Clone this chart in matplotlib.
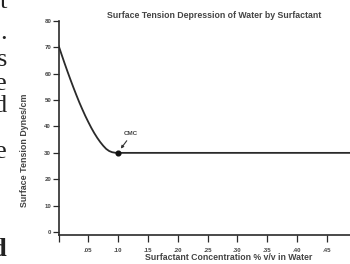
import matplotlib
matplotlib.use("Agg")
import matplotlib.pyplot as plt

# Data
conc = [0.0, 0.005, 0.010, 0.015, 0.020, 0.025, 0.030, 0.035, 0.040, 0.045, 0.050,
        0.055, 0.060, 0.065, 0.070, 0.075, 0.080, 0.085, 0.090, 0.095, 0.10, 0.30, 0.50]
tension = [70.8, 67.4, 64.1, 60.9, 57.8, 54.8, 51.9, 49.1, 46.5, 44.0, 41.7,
           39.5, 37.5, 35.7, 34.1, 32.7, 31.5, 30.7, 30.25, 30.05, 30.0, 30.0, 30.0]
cmc_x, cmc_y = 0.10, 30.0
xticks = [0.0, 0.05, 0.10, 0.15, 0.20, 0.25, 0.30, 0.35, 0.40, 0.45]
xticklabels = ["", ".05", ".10", ".15", ".20", ".25", ".30", ".35", ".40", ".45"]
yticks = [0, 10, 20, 30, 40, 50, 60, 70, 80]
title = "Surface Tension Depression of Water by Surfactant"
xlabel = "Surfactant Concentration % v/v in Water"
ylabel = "Surface Tension Dynes/cm"

W, H = 350, 264
fig = plt.figure(figsize=(3.5, 2.64), dpi=100)
fig.patch.set_facecolor("white")
plt.rcParams["font.family"] = ["Liberation Sans", "DejaVu Sans"]

ax = fig.add_axes([58.5 / W, 1 - 234.5 / H, (W - 58.5) / W, (234.5 - 21) / H])
ax.set_xlim(0, 0.489)
ax.set_ylim(-0.95, 80)
ax.set_facecolor("white")

dark = "#2a2a2a"
txt = "#444444"
ax.plot(conc, tension, color=dark, lw=1.3, solid_capstyle="butt")
ax.plot([cmc_x], [cmc_y], "o", color="#111111", ms=3.4)

for s in ["top", "right"]:
    ax.spines[s].set_visible(False)
for s in ["left", "bottom"]:
    ax.spines[s].set_color(dark)
    ax.spines[s].set_linewidth(1.2)

ax.set_xticks(xticks)
ax.set_xticklabels(xticklabels)
ax.set_yticks(yticks)
ax.tick_params(axis="x", direction="out", length=5, width=0.9, color=dark, pad=4.5,
               labelsize=4.4, labelcolor=txt)
ax.tick_params(axis="y", direction="out", length=4.5, width=0.9, color=dark, pad=0.8,
               labelsize=4.4, labelcolor=txt)
for lab in ax.get_xticklabels() + ax.get_yticklabels():
    lab.set_fontweight("bold")

ax.annotate("", xy=(0.1045, 31.6), xytext=(0.1145, 34.6),
            arrowprops=dict(arrowstyle="-|>", color="#333333", lw=0.8,
                            mutation_scale=4, shrinkA=0, shrinkB=0))
ax.text(0.121, 37.3, "CMC", fontsize=4.5, fontweight="bold", color=txt,
        ha="center", va="center")

fig.text(214 / W, 1 - 16 / H, title, fontsize=6.3, fontweight="bold", color=txt,
         ha="center", va="center")
fig.text(229 / W, 1 - 257 / H, xlabel, fontsize=6.3, fontweight="bold", color=txt,
         ha="center", va="center")
fig.text(25 / W, 1 - 150 / H, ylabel, fontsize=6.4, fontweight="bold", color=txt,
         ha="center", va="center", rotation=90)

# Stray letters of the surrounding page text, clipped at the left edge
serif = ["Liberation Serif", "DejaVu Serif"]
for ch, y, w in [("t", 2, "normal"), (".", 33, "normal"), ("s", 60, "normal"), ("e", 84, "normal"),
                 ("d", 106, "normal"), ("e", 152, "normal"), ("d", 250, "bold")]:
    fig.text(7 / W, 1 - y / H, ch, fontsize=19, family=serif, fontweight=w,
             color="#222222", ha="right", va="center")

fig.savefig("out.png", dpi=100, facecolor="white")
